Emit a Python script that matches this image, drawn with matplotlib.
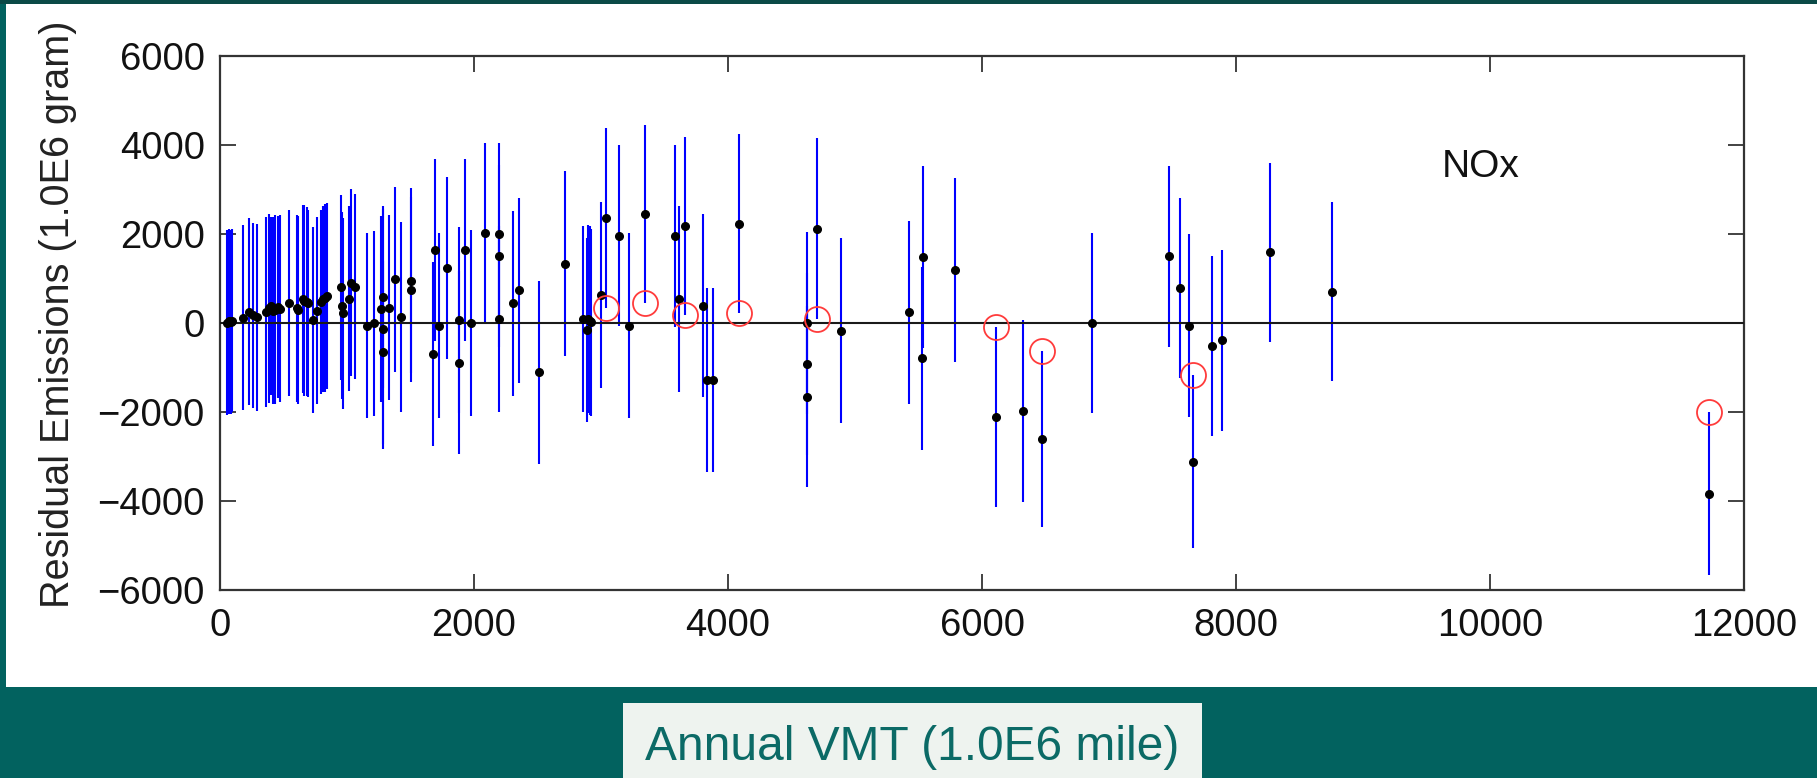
import matplotlib.pyplot as plt
from matplotlib.patches import Rectangle

plt.rcParams['font.family'] = ['Liberation Sans', 'DejaVu Sans']

# Residuos por condado: VMT anual, residuo y semiancho de la barra
vmt = [55, 70, 85, 95, 178, 226, 257, 289, 365, 383,
       400, 418, 435, 455, 475, 543, 604, 617, 651, 664,
       682, 695, 730, 761, 795, 808, 827, 842, 950, 963,
       968, 1016, 1031, 1063, 1155, 1215, 1270, 1281, 1281, 1285,
       1333, 1378, 1423, 1501, 1505, 1680, 1695, 1722, 1785, 1882,
       1885, 1929, 1976, 2087, 2197, 2197, 2197, 2310, 2354, 2514,
       2714, 2856, 2890, 2900, 2915, 2925, 3000, 3036, 3144, 3223,
       3346, 3584, 3615, 3661, 3806, 3837, 3885, 4089, 4619, 4619,
       4625, 4703, 4892, 5428, 5538, 5528, 5787, 6108, 6325, 6470,
       6863, 7475, 7559, 7632, 7664, 7808, 7887, 8268, 8753, 11726]

residual = [10, 40, 20, 50, 120, 250, 170, 130, 250, 330,
            390, 280, 300, 360, 320, 440, 330, 290, 540, 500,
            480, 440, 60, 280, 480, 530, 560, 610, 800, 390,
            220, 550, 910, 815, -60, -10, 315, 590, -135, -660,
            340, 980, 130, 950, 750, -690, 1640, -60, 1230, 68,
            -891, 1640, -10, 2020, 2010, 1500, 90, 440, 740, -1110,
            1330, 100, -160, 90, 50, 20, 630, 2355, 1960, -60,
            2450, 1950, 540, 2180, 390, -1280, -1280, 2230, 0, -921,
            -1655, 2120, -172, 240, 1476, -794, 1190, -2120, -1975, -2607,
            0, 1495, 779, -60, -3116, -515, -390, 1585, 705, -3833]

half_width = [2075, 2080, 2070, 2060, 2085, 2100, 2070, 2100, 2130, 2120,
              2000, 2100, 2120, 2050, 2100, 2090, 2100, 2110, 2110, 2150,
              2120, 2100, 2090, 2100, 2070, 2090, 2110, 2090, 2080, 2100,
              2150, 2085, 2100, 2080, 2080, 2085, 2100, 2050, 2700, 2050,
              2080, 2080, 2140, 2080, 2080, 2070, 2050, 2080, 2050, 2080,
              2050, 2050, 2090, 2030, 2040, 2040, 2100, 2080, 2080, 2060,
              2080, 2090, 2060, 2110, 2120, 2100, 2080, 2020, 2030, 2080,
              2010, 2040, 2080, 2010, 2060, 2060, 2060, 2010, 2040, 2040,
              2040, 2030, 2075, 2060, 2044, 2052, 2060, 2020, 2050, 1985,
              2030, 2030, 2020, 2060, 1948, 2015, 2030, 2020, 2015, 1833]

# puntos cuya barra no cruza el cero (circulo rojo en el extremo)
flagged = [67, 70, 73, 77, 81, 87, 89, 94, 99]

W, H = 1817, 778
fig = plt.figure(figsize=(W / 100, H / 100), dpi=100, facecolor='#02625f')

# panel blanco y caja de la etiqueta del eje x
fig.patches.append(Rectangle((6 / W, 1 - 687 / H), 1 - 6 / W, (687 - 4) / H,
                             transform=fig.transFigure, facecolor='white', edgecolor='none', zorder=-5))
fig.patches.append(Rectangle((0, 1 - 4 / H), 1, 4 / H,
                             transform=fig.transFigure, facecolor='#0b4a47', edgecolor='none', zorder=-5))
fig.patches.append(Rectangle((623 / W, 0), (1202 - 623) / W, 1 - 703 / H,
                             transform=fig.transFigure, facecolor='#eef3ef', edgecolor='none', zorder=-5))

ax = fig.add_axes([220 / W, 1 - 590 / H, (1744 - 220) / W, (590 - 56) / H])
ax.set_zorder(1)
ax.set_facecolor('white')

ax.errorbar(vmt, residual, yerr=half_width, fmt='none', ecolor='#0000ff',
            elinewidth=1.5, capsize=0, zorder=2)
ax.axhline(0, color='#1a1a1a', linewidth=1.5, zorder=3)
ax.plot(vmt, residual, 'o', color='black', markersize=5.5, zorder=4)

circ_x = [vmt[i] for i in flagged]
circ_y = [residual[i] - half_width[i] if residual[i] > 0 else residual[i] + half_width[i] for i in flagged]
ax.plot(circ_x, circ_y, 'o', markerfacecolor='none', markeredgecolor='#ff3b3b',
        markersize=18, markeredgewidth=1.3, zorder=5)

ax.text(9620, 3290, 'NOx', fontsize=28, color='#111111', va='baseline')

ax.set_xlim(0, 12000)
ax.set_ylim(-6000, 6000)
ax.set_xticks(range(0, 12001, 2000))
ax.set_yticks(range(-6000, 6001, 2000))
ax.set_yticklabels(['\u22126000', '\u22124000', '\u22122000', '0', '2000', '4000', '6000'])

ax.tick_params(axis='both', direction='in', length=11.5, width=1.2, color='#222222',
               labelsize=27.5, labelcolor='#111111', top=True, right=True)
ax.tick_params(axis='x', pad=13)
ax.tick_params(axis='y', pad=11)
for s in ax.spines.values():
    s.set_linewidth(1.6)
    s.set_color('#333333')

ax.set_ylabel('Residual Emissions (1.0E6 gram)', fontsize=28.5, color='#222222')
ax.yaxis.set_label_coords(-0.094, 0.516)

fig.text(912 / W, 1 - 760 / H, 'Annual VMT (1.0E6 mile)', fontsize=34.5,
         color='#0b6a66', ha='center', va='baseline')

fig.savefig('out.png', dpi=100, facecolor=fig.get_facecolor())
